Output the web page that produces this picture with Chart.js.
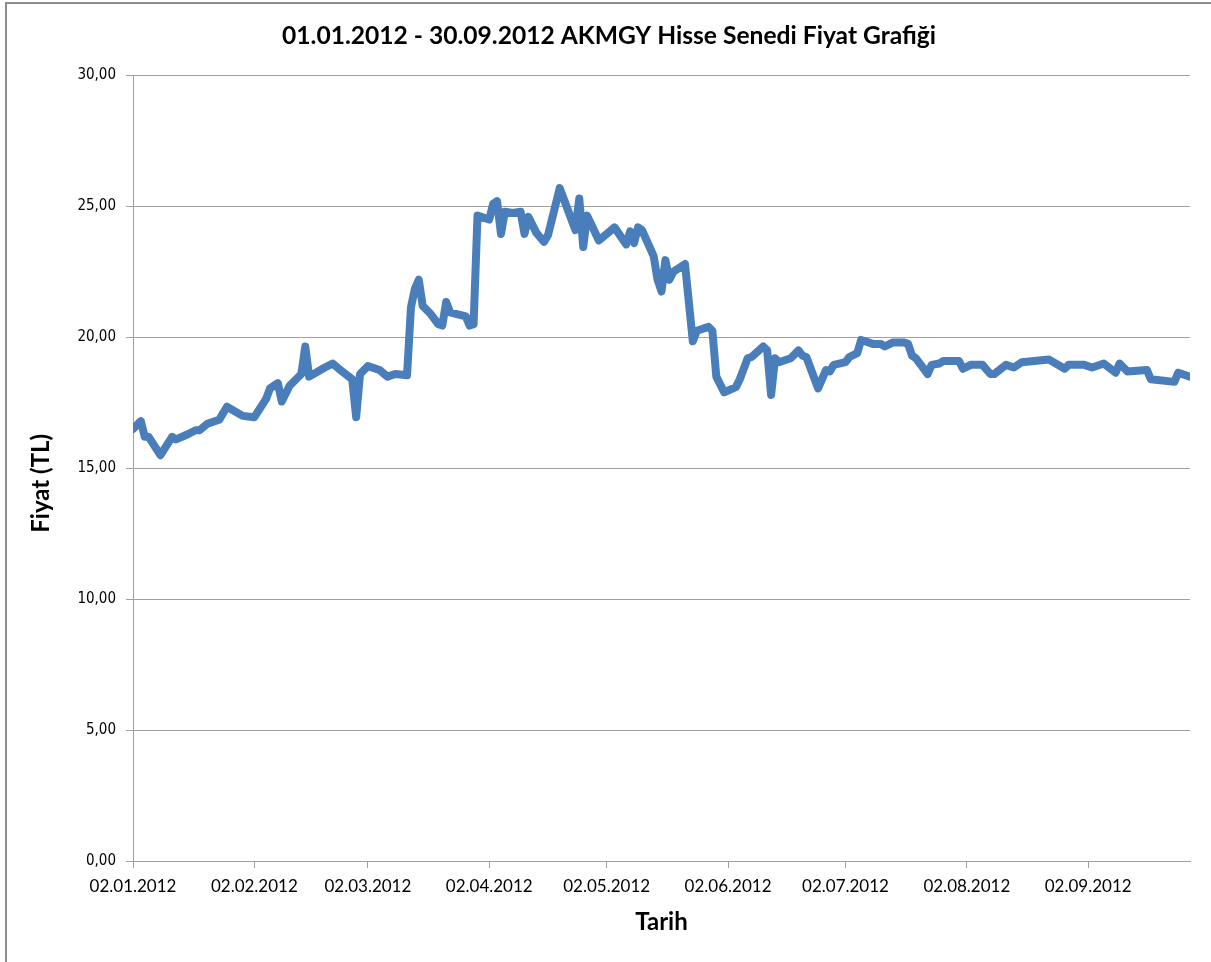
<!DOCTYPE html>
<html>
<head>
<meta charset="utf-8">
<title>AKMGY Hisse Senedi Fiyat Grafiği</title>
<script src="https://cdn.jsdelivr.net/npm/chart.js@4.4.1/dist/chart.umd.min.js"></script>
<style>
  html, body { margin: 0; padding: 0; background: #fff; }
  canvas { display: block; }
</style>
</head>
<body>
<canvas id="chartFiyat" width="1211" height="962"></canvas>
<script>
// ================= VERİ =================
// gün = 02.01.2012'den itibaren geçen gün sayısı
const gunler = [
  0, 2, 3, 4, 7, 10, 11, 14, 16, 17, 19, 22, 24, 28, 31, 34, 35, 37, 38, 40,
  43, 44, 45, 49, 51, 53, 56, 57, 58, 60, 63, 65, 67, 70, 71, 72, 73, 74, 76, 78,
  79, 80, 81, 85, 86, 87, 88, 91, 92, 93, 94, 95, 97, 99, 100, 101, 103, 105, 106, 109,
  113, 114, 115, 116, 119, 123, 126, 127, 128, 129, 130, 133, 134, 135, 136, 137, 138, 141, 143, 144,
  147, 148, 149, 151, 154, 155, 157, 158, 161, 162, 163, 164, 165, 168, 170, 171, 172, 175, 177, 178,
  179, 182, 183, 185, 186, 189, 191, 192, 194, 197, 198, 199, 200, 203, 204, 206, 207, 211, 212, 214,
  217, 219, 220, 223, 225, 227, 234, 238, 239, 243, 245, 248, 251, 252, 254, 259, 260, 266, 267, 270
];

const fiyatlar = [
  16.5, 16.8, 16.2, 16.2, 15.5, 16.2, 16.1, 16.3, 16.45, 16.45, 16.7, 16.85, 17.35, 17.0, 16.95, 17.65, 18.05, 18.25, 17.55, 18.15,
  18.6, 19.65, 18.5, 18.85, 19.0, 18.75, 18.4, 16.95, 18.6, 18.9, 18.75, 18.5, 18.6, 18.55, 21.15, 21.85, 22.2, 21.2, 20.9, 20.5,
  20.45, 21.35, 20.95, 20.8, 20.45, 20.5, 24.65, 24.5, 25.1, 25.2, 23.95, 24.8, 24.75, 24.8, 23.95, 24.6, 24.0, 23.65, 23.9, 25.7,
  24.1, 25.3, 23.45, 24.65, 23.7, 24.2, 23.55, 24.05, 23.6, 24.2, 24.1, 23.1, 22.2, 21.75, 22.95, 22.2, 22.5, 22.8, 19.85, 20.25,
  20.4, 20.25, 18.5, 17.9, 18.1, 18.4, 19.2, 19.25, 19.65, 19.5, 17.8, 19.2, 19.05, 19.2, 19.5, 19.3, 19.25, 18.05, 18.75, 18.7,
  18.95, 19.05, 19.25, 19.4, 19.9, 19.75, 19.75, 19.65, 19.8, 19.8, 19.75, 19.3, 19.2, 18.6, 18.95, 19.0, 19.1, 19.1, 18.8, 18.95,
  18.95, 18.6, 18.6, 18.95, 18.85, 19.05, 19.15, 18.8, 18.95, 18.95, 18.85, 19.0, 18.65, 19.0, 18.7, 18.75, 18.4, 18.3, 18.65, 18.5
];

// x ekseni etiketleri (ayın 2'si)
const tickGunleri = [0, 31, 60, 91, 121, 152, 182, 213, 244];
const tickEtiketleri = [
  "02.01.2012", "02.02.2012", "02.03.2012", "02.04.2012", "02.05.2012",
  "02.06.2012", "02.07.2012", "02.08.2012", "02.09.2012"
];

const SON_GUN = 270; // 28.09.2012

// ================= RENKLER =================
const cizgiRengi = "#4a7ebb";
const gridRengi = "#a0a0a0";

// ================= ÇERÇEVE + KAYDIRMA =================
const cerceve = {
  id: "cerceve",
  afterLayout(chart) {
    // başlık tüm çerçeveye göre ortalanıyor
    chart.titleBlock.left = 28;

    // y ekseni başlığı biraz aşağıda
    const y = chart.scales.y;
    if (!y._kaydirildi) {
      const orjinal = y.drawTitle.bind(y);
      y.drawTitle = function () {
        this.ctx.save();
        this.ctx.translate(0, 15);
        orjinal();
        this.ctx.restore();
      };
      y._kaydirildi = true;
    }
  },
  beforeDraw(chart) {
    const ctx = chart.ctx;
    ctx.save();
    ctx.fillStyle = "#ffffff";
    ctx.fillRect(0, 0, chart.width, chart.height);
    ctx.strokeStyle = "#8c8c8c";
    ctx.lineWidth = 2;
    ctx.beginPath();
    ctx.moveTo(6, chart.height);
    ctx.lineTo(6, 3);
    ctx.lineTo(chart.width, 3);
    ctx.stroke();
    ctx.restore();
  }
};

// ================= GRAFİK =================
const noktalar = gunler.map((g, i) => ({ x: g, y: fiyatlar[i] }));

const fiyatChart = new Chart(document.getElementById("chartFiyat"), {
  type: "line",
  data: {
    datasets: [{
      label: "AKMGY",
      data: noktalar,
      borderColor: cizgiRengi,
      borderWidth: 8,
      borderJoinStyle: "round",
      borderCapStyle: "round",
      pointRadius: 0,
      tension: 0
    }]
  },
  options: {
    responsive: false,
    animation: false,
    devicePixelRatio: 1,
    layout: {
      padding: { left: 0, right: 21, top: 0, bottom: 0 }
    },
    plugins: {
      legend: { display: false },
      tooltip: { enabled: false },
      title: {
        display: true,
        text: "01.01.2012 - 30.09.2012 AKMGY Hisse Senedi Fiyat Grafiği",
        color: "#000",
        font: { family: "Lato", size: 24.6, weight: "bold" },
        padding: { top: 21, bottom: 25 }
      }
    },
    scales: {
      x: {
        type: "linear",
        min: 0,
        max: SON_GUN,
        afterFit(scale) { scale.height = 101; },
        afterBuildTicks(scale) {
          scale.ticks = tickGunleri.map(v => ({ value: v }));
        },
        grid: {
          drawOnChartArea: false,
          drawTicks: true,
          tickLength: 7,
          color: gridRengi
        },
        border: { color: gridRengi },
        ticks: {
          autoSkip: false,
          maxRotation: 0,
          padding: 8,
          color: "#000",
          font: { family: "Lato", size: 17 },
          callback: (v, i) => tickEtiketleri[i]
        },
        title: {
          display: true,
          text: "Tarih",
          color: "#000",
          font: { family: "Lato", size: 24, weight: "bold" },
          padding: { bottom: 25 }
        }
      },
      y: {
        min: 0,
        max: 30,
        afterFit(scale) { scale.width = 133; },
        grid: {
          color: gridRengi,
          tickLength: 7
        },
        border: { color: gridRengi },
        ticks: {
          stepSize: 5,
          padding: 10,
          color: "#000",
          font: { family: "'DejaVu Sans Condensed', 'Liberation Sans'", size: 15 },
          callback: v => v.toFixed(2).replace(".", ",")
        },
        title: {
          display: true,
          text: "Fiyat (TL)",
          color: "#000",
          font: { family: "Lato", size: 24, weight: "bold" },
          padding: { top: 27 }
        }
      }
    }
  },
  plugins: [cerceve]
});
</script>
</body>
</html>
